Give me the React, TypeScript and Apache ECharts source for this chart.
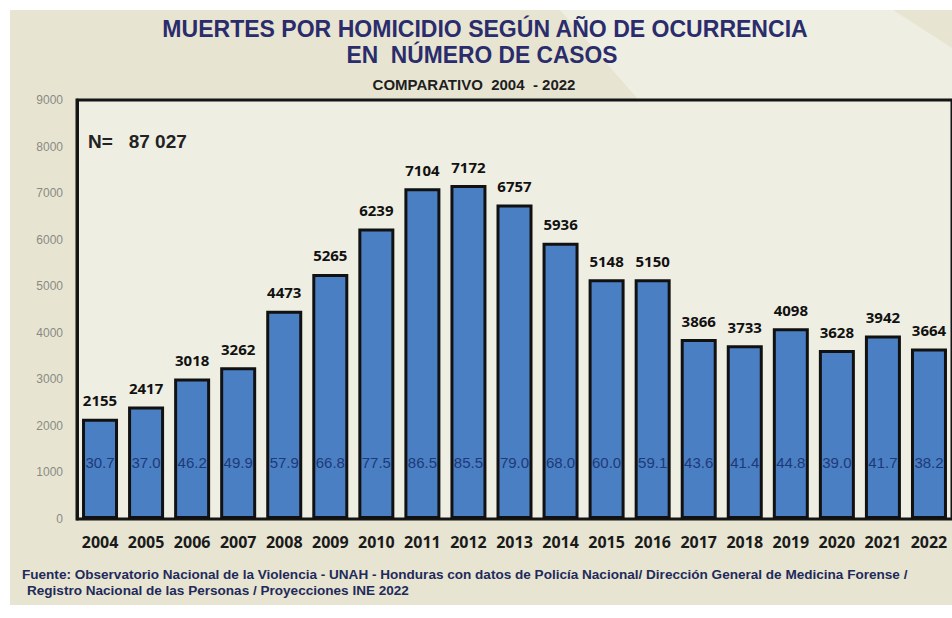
import React, { useEffect, useRef } from "react";
import * as echarts from "echarts";

const years = ["2004","2005","2006","2007","2008","2009","2010","2011","2012","2013","2014","2015","2016","2017","2018","2019","2020","2021","2022"];
const cases = [2155, 2417, 3018, 3262, 4473, 5265, 6239, 7104, 7172, 6757, 5936, 5148, 5150, 3866, 3733, 4098, 3628, 3942, 3664];
const rates = ["30.7","37.0","46.2","49.9","57.9","66.8","77.5","86.5","85.5","79.0","68.0","60.0","59.1","43.6","41.4","44.8","39.0","41.7","38.2"];
const yTicks = { min: 0, max: 9000, interval: 1000 };

const titleLine1 = "MUERTES POR HOMICIDIO SEGÚN AÑO DE OCURRENCIA";
const titleLine2 = "EN  NÚMERO DE CASOS";
const subtitle = "COMPARATIVO  2004  - 2022";
const source1 = "Fuente: Observatorio Nacional de la Violencia - UNAH - Honduras con datos de Policía Nacional/ Dirección General de Medicina Forense /";
const source2 = "Registro Nacional de las Personas / Proyecciones INE 2022";

export default function App() {
  const ref = useRef<HTMLDivElement>(null);
  useEffect(() => {
    if (!ref.current) return;
    const chart = echarts.init(ref.current, null, { renderer: "svg" });
    const total = cases.reduce((a, b) => a + b, 0);
    const totalStr = String(total).replace(/\B(?=(\d{3})+(?!\d))/g, " ");
    chart.setOption({
      animation: false,
      backgroundColor: "#ffffff",
      graphic: [
        { type: "rect", z: -10, shape: { x: 10, y: 10, width: 942, height: 595 }, style: { fill: "#e7e5d2" } },
        { type: "polygon", z: -9, shape: { points: [[893, 10], [952, 48], [952, 340], [700, 170], [560, 10]] }, style: { fill: "#efeee2" } },
        { type: "text", z: 10, x: 485, y: 29, scaleX: 0.96, style: { text: titleLine1, font: "bold 24px 'Liberation Sans'", fill: "#2a2c6b", textAlign: "center", textVerticalAlign: "middle" } },
        { type: "text", z: 10, x: 482, y: 55, scaleX: 0.95, style: { text: titleLine2, font: "bold 24px 'Liberation Sans'", fill: "#2a2c6b", textAlign: "center", textVerticalAlign: "middle" } },
        { type: "text", z: 10, x: 474, y: 84, scaleX: 1.0, style: { text: subtitle, font: "bold 15px 'Liberation Sans'", fill: "#1e1e1e", textAlign: "center", textVerticalAlign: "middle" } },
        { type: "text", z: 10, x: 88, y: 141, style: { text: "N=   " + totalStr, font: "bold 19px 'Liberation Sans'", fill: "#222222", textAlign: "left", textVerticalAlign: "middle" } },
        { type: "text", z: 10, x: 22, y: 575, scaleX: 1.13, style: { text: source1, font: "bold 12px 'Liberation Sans'", fill: "#1f2a5a", textAlign: "left", textVerticalAlign: "middle" } },
        { type: "text", z: 10, x: 27, y: 591, scaleX: 1.13, style: { text: source2, font: "bold 12px 'Liberation Sans'", fill: "#1f2a5a", textAlign: "left", textVerticalAlign: "middle" } }
      ],
      grid: {
        left: 77, top: 100, width: 881, height: 419,
        show: true, backgroundColor: "#efeee2", borderColor: "#151515", borderWidth: 3
      },
      xAxis: {
        type: "category",
        data: years,
        axisLine: { lineStyle: { color: "#151515", width: 2 } },
        axisTick: { alignWithLabel: true, length: 5, lineStyle: { color: "#151515", width: 2 } },
        axisLabel: { interval: 0, color: "#1a1a1a", fontWeight: "bold", fontSize: 16, fontFamily: "'Open Sans'", margin: 15 }
      },
      yAxis: {
        type: "value",
        min: yTicks.min, max: yTicks.max, interval: yTicks.interval,
        axisLine: { show: true, lineStyle: { color: "#151515", width: 3 } },
        axisTick: { show: false },
        splitLine: { show: false },
        axisLabel: { formatter: (v: number) => String(v), color: "#8a8a82", fontSize: 12, fontFamily: "'Liberation Sans'", margin: 14 }
      },
      series: [
        {
          type: "bar",
          data: cases,
          barWidth: 36,
          itemStyle: { color: "#4b7fc4", borderColor: "#111111", borderWidth: 3 },
          label: { show: true, position: "top", distance: 11, color: "#111111", fontWeight: "bold", fontSize: 15, fontFamily: "'Open Sans'" }
        },
        {
          type: "bar",
          data: cases,
          barWidth: 36,
          barGap: "-100%",
          silent: true,
          itemStyle: { color: "rgba(0,0,0,0)" },
          label: {
            show: true, position: "insideBottom", distance: 49,
            formatter: (p: any) => rates[p.dataIndex],
            color: "#1c3a78", fontSize: 15, fontFamily: "'Liberation Sans'"
          }
        }
      ]
    });
    return () => chart.dispose();
  }, []);
  return <div ref={ref} style={{ position: "fixed", left: 0, top: 0, width: 952, height: 618 }} />;
}
